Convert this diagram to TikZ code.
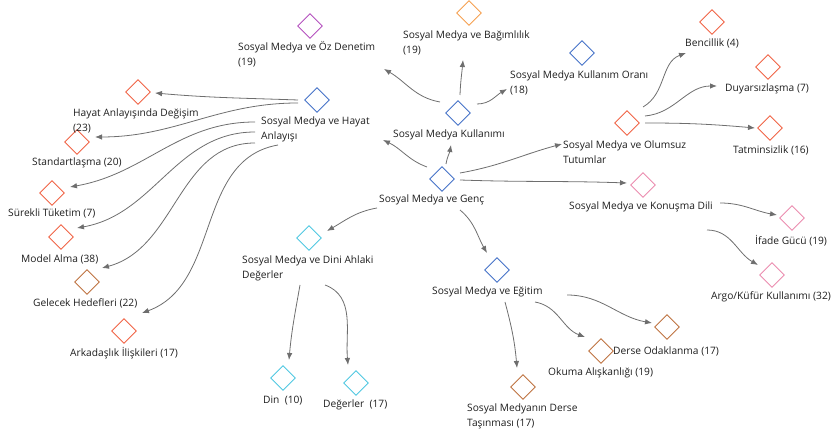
\documentclass[tikz,border=0pt]{standalone}
\usepackage{fontspec}
\setmainfont{Open Sans}
\usetikzlibrary{shapes.geometric,arrows.meta}
\definecolor{cred}{RGB}{240,100,70}
\definecolor{cbrown}{RGB}{190,115,65}
\definecolor{cblue}{RGB}{70,115,200}
\definecolor{cpurple}{RGB}{180,80,190}
\definecolor{corange}{RGB}{245,160,80}
\definecolor{cpink}{RGB}{235,140,175}
\definecolor{ccyan}{RGB}{80,200,225}
\definecolor{cline}{RGB}{110,110,110}
\definecolor{ctext}{RGB}{30,30,30}
\tikzset{
  dia/.style={draw=#1, diamond, minimum width=25pt, minimum height=25pt, inner sep=0pt, line width=0.9pt},
  lab/.style={anchor=west, align=left, inner sep=0pt, text=ctext, font=\fontsize{10.2}{15}\selectfont},
  arr/.style={draw=cline, line width=0.8pt, -{Latex[length=7pt,width=5.5pt]}},
}
\begin{document}
\begin{tikzpicture}[x=1pt,y=1pt]
\useasboundingbox (0,0) rectangle (837,435);
% diamonds
\node[dia=cpurple] (oz) at (310,409) {};
\node[dia=corange] (bag) at (469,422) {};
\node[dia=cblue] (oran) at (582,382) {};
\node[dia=cblue] (hay) at (317,335) {};
\node[dia=cblue] (kul) at (458,322) {};
\node[dia=cblue] (genc) at (442,256) {};
\node[dia=cred] (bencil) at (712,413) {};
\node[dia=cred] (duyar) at (768,368) {};
\node[dia=cred] (olum) at (627,312) {};
\node[dia=cred] (tatmin) at (770,307) {};
\node[dia=cpink] (konus) at (643,250) {};
\node[dia=cpink] (ifade) at (792,217) {};
\node[dia=cpink] (argo) at (772,160) {};
\node[dia=cbrown] (odak) at (667,108) {};
\node[dia=cbrown] (okuma) at (601,84) {};
\node[dia=cblue] (egitim) at (497,165) {};
\node[dia=cbrown] (tasin) at (523,48) {};
\node[dia=ccyan] (dini) at (309,197) {};
\node[dia=ccyan] (din) at (283,57) {};
\node[dia=ccyan] (deger) at (356,52) {};
\node[dia=cred] (hdeg) at (138,343) {};
\node[dia=cred] (stand) at (77,293) {};
\node[dia=cred] (surek) at (52,242) {};
\node[dia=cred] (model) at (61,198) {};
\node[dia=cbrown] (gelecek) at (87,153) {};
\node[dia=cred] (arkad) at (124,104) {};
% labels
\node[lab] (loz) at (238,380.5) {Sosyal Medya ve Öz Denetim\\(19)};
\node[lab] (lbag) at (403,392.5) {Sosyal Medya ve Bağımlılık\\(19)};
\node[lab] (loran) at (510,352.5) {Sosyal Medya Kullanım Oranı\\(18)};
\node[lab] (lhay) at (261,305.5) {Sosyal Medya ve Hayat\\Anlayışı};
\node[lab] (lkul) at (393,300) {Sosyal Medya Kullanımı};
\node[lab] (lgenc) at (379,235) {Sosyal Medya ve Genç};
\node[lab] (lbencil) at (685,392) {Bencillik (4)};
\node[lab] (lduyar) at (725,346) {Duyarsızlaşma (7)};
\node[lab] (lolum) at (563,282.5) {Sosyal Medya ve Olumsuz\\Tutumlar};
\node[lab] (ltatmin) at (733,285) {Tatminsizlik (16)};
\node[lab] (lkonus) at (569,228) {Sosyal Medya ve Konuşma Dili};
\node[lab] (lifade) at (755,194) {İfade Gücü (19)};
\node[lab] (largo) at (711,138) {Argo/Küfür Kullanımı (32)};
\node[lab] (lodak) at (613,84) {Derse Odaklanma (17)};
\node[lab] (lokuma) at (548,62) {Okuma Alışkanlığı (19)};
\node[lab] (legitim) at (432,143) {Sosyal Medya ve Eğitim};
\node[lab] (ltasin) at (467,19) {Sosyal Medyanın Derse\\Taşınması (17)};
\node[lab] (ldini) at (242,167) {Sosyal Medya ve Dini Ahlaki\\Değerler};
\node[lab] (ldin) at (263,34) {Din~~(10)};
\node[lab] (lderger) at (323,30) {Değerler~~(17)};
\node[lab] (lhdeg) at (73,314) {Hayat Anlayışında Değişim\\(23)};
\node[lab] (lstand) at (32,272) {Standartlaşma (20)};
\node[lab] (lsurek) at (8,222) {Sürekli Tüketim (7)};
\node[lab] (lmodel) at (21,176) {Model Alma (38)};
\node[lab] (lgelecek) at (33,132) {Gelecek Hedefleri (22)};
\node[lab] (larkad) at (70,82) {Arkadaşlık İlişkileri (17)};
% connectors
\draw[arr] ([shift={(4,15)}]genc.center) to[out=80,in=-100] ([shift={(-7,-32)}]kul.center);
\draw[arr] ([shift={(-15,12)}]genc.center) to[out=160,in=-25] ([shift={(66,-40)}]hay.center);
\draw[arr] ([shift={(18,6)}]genc.center) to[out=10,in=-165] ([shift={(-65,-21)}]olum.center);
\draw[arr] ([shift={(18,-1)}]genc.center) to[out=-2,in=178] ([shift={(-16,2)}]konus.center);
\draw[arr] ([shift={(-65,-29)}]genc.center) to[out=190,in=30] ([shift={(18,7)}]dini.center);
\draw[arr] ([shift={(18,-31)}]genc.center) to[out=-40,in=120] ([shift={(-10,17)}]egitim.center);
\draw[arr] ([shift={(-18,11)}]kul.center) to[out=170,in=-30] ([shift={(74,-43)}]oz.center);
\draw[arr] ([shift={(2,18)}]kul.center) to[out=88,in=-95] ([shift={(-6,-47)}]bag.center);
\draw[arr] ([shift={(19,9)}]kul.center) to[out=0,in=-150] ([shift={(-75,-36)}]oran.center);
\draw[arr] ([shift={(-19,0)}]hay.center) to[out=178,in=-5] ([shift={(17,-1)}]hdeg.center);
\draw[arr] ([shift={(-19,-3)}]hay.center) to[out=180,in=0] ([shift={(18,5)}]stand.center);
\draw[arr] ([shift={(-62,-22)}]hay.center) to[out=180,in=10] ([shift={(18,6)}]surek.center);
\draw[arr] ([shift={(-62,-32)}]hay.center) to[out=180,in=10] ([shift={(16,9)}]model.center);
\draw[arr] ([shift={(-62,-43)}]hay.center) to[out=180,in=15] ([shift={(15,14)}]gelecek.center);
\draw[arr] ([shift={(-39,-45)}]hay.center) to[out=190,in=20] ([shift={(18,18)}]arkad.center);
\draw[arr] ([shift={(16,16)}]olum.center) to[out=30,in=200] ([shift={(-26,-31)}]bencil.center);
\draw[arr] ([shift={(18,7)}]olum.center) to[out=5,in=180] ([shift={(-51,-19)}]duyar.center);
\draw[arr] ([shift={(18,0)}]olum.center) to[out=0,in=175] ([shift={(-15,0)}]tatmin.center);
\draw[arr] ([shift={(77,-18)}]konus.center) to[out=0,in=170] ([shift={(-15,3)}]ifade.center);
\draw[arr] ([shift={(64,-45)}]konus.center) to[out=0,in=150] ([shift={(-14,10)}]argo.center);
\draw[arr] ([shift={(70,-25)}]egitim.center) to[out=0,in=170] ([shift={(-15,4)}]odak.center);
\draw[arr] ([shift={(38,-32)}]egitim.center) to[out=-10,in=160] ([shift={(-16,14)}]okuma.center);
\draw[arr] ([shift={(8,-32)}]egitim.center) to[out=-75,in=95] ([shift={(-6,19)}]tasin.center);
\draw[arr] ([shift={(-9,-47)}]dini.center) to[out=-100,in=85] ([shift={(6,18)}]din.center);
\draw[arr] ([shift={(16,-47)}]dini.center) to[out=-20,in=95] ([shift={(-8,18)}]deger.center);
\end{tikzpicture}
\end{document}
